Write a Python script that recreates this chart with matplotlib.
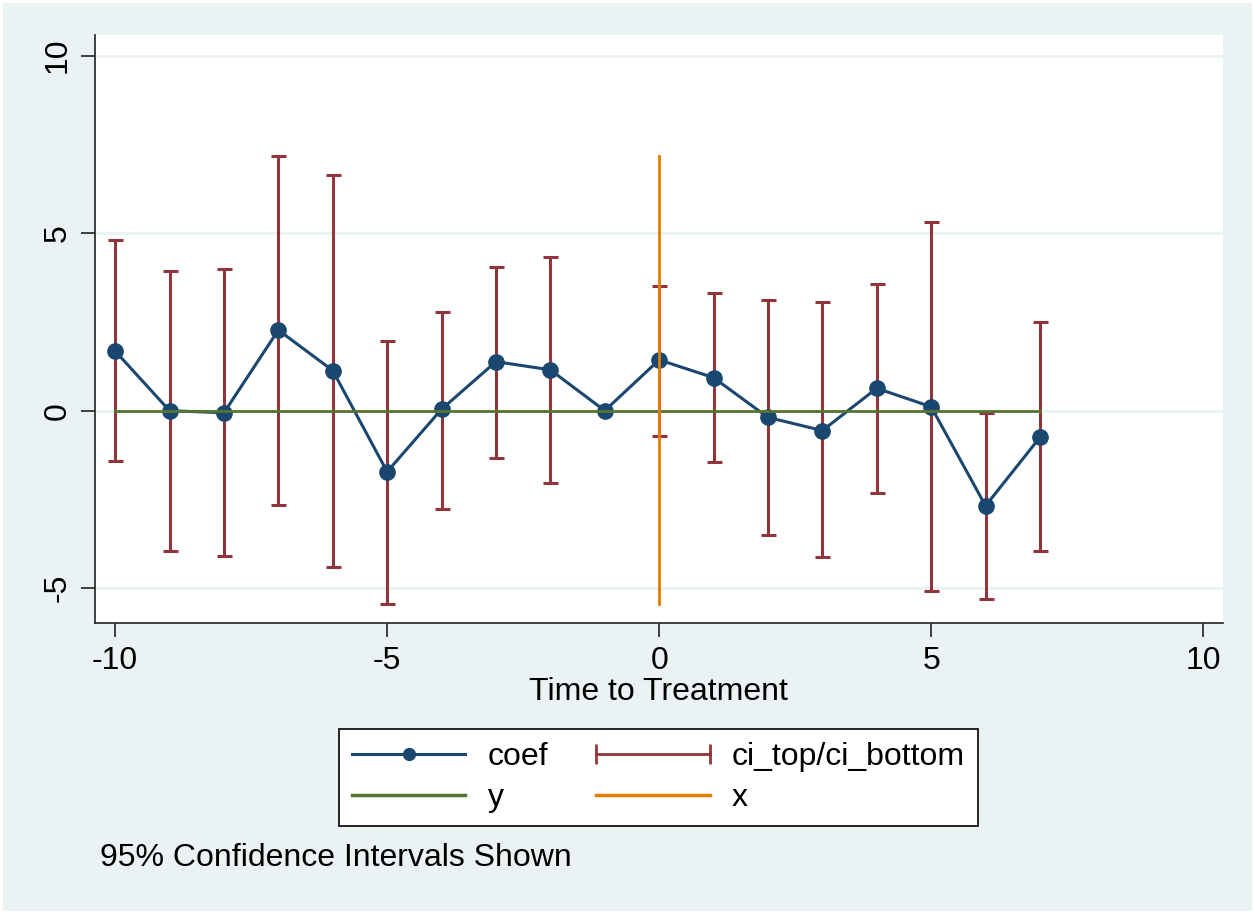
import numpy as np
import matplotlib
matplotlib.use("Agg")
import matplotlib.pyplot as plt
from matplotlib.lines import Line2D
from matplotlib.legend_handler import HandlerLine2D

# Event-study estimates by time to treatment
time = np.arange(-10, 8)
coef = [1.68, 0.00, -0.06, 2.27, 1.13, -1.72, 0.04, 1.38, 1.15,
        0.00, 1.43, 0.93, -0.19, -0.56, 0.63, 0.11, -2.68, -0.75]
ci_top = [4.81, 3.94, 3.99, 7.17, 6.64, 1.96, 2.79, 4.06, 4.32,
          np.nan, 3.51, 3.31, 3.13, 3.05, 3.57, 5.30, -0.07, 2.49]
ci_bottom = [-1.42, -3.95, -4.10, -2.65, -4.39, -5.44, -2.76, -1.34, -2.05,
             np.nan, -0.70, -1.45, -3.51, -4.13, -2.31, -5.07, -5.30, -3.94]

# Stata s2color palette
navy = '#1a476f'
maroon = '#90353b'
green = '#55752f'
orange = '#e37e00'
bg = '#eaf2f3'

plt.rcParams['font.family'] = ['Liberation Sans', 'DejaVu Sans']
plt.rcParams['font.size'] = 23
plt.rcParams['axes.unicode_minus'] = False

fig = plt.figure(figsize=(12.55, 9.14), dpi=100)
fig.patch.set_facecolor(bg)
fig.patch.set_edgecolor('white')
fig.patch.set_linewidth(4)

ax = fig.add_axes([0.0757, 0.318, 0.8986, 0.6437])
ax.set_facecolor('white')

top = np.array(ci_top)
bot = np.array(ci_bottom)
mid = (top + bot) / 2
half = (top - bot) / 2

# confidence intervals
ax.errorbar(time, mid, yerr=[half, half], fmt='none', ecolor=maroon,
            elinewidth=2.2, capsize=5.4, capthick=2.2, zorder=2)
# point estimates
ax.plot(time, coef, color=navy, lw=2.2, marker='o', ms=11, zorder=3)
# reference lines
ax.plot([time.min(), time.max()], [0, 0], color=green, lw=2, zorder=4)
ax.plot([0, 0], [np.nanmin(bot), np.nanmax(top)], color=orange, lw=2, zorder=5)

ax.set_xlim(-10.37, 10.36)
ax.set_ylim(-5.99, 10.58)
ax.set_xticks([-10, -5, 0, 5, 10])
ax.set_yticks([-5, 0, 5, 10])
ax.grid(axis='y', color=bg, lw=2)
ax.set_axisbelow(True)

for s in ['top', 'right']:
    ax.spines[s].set_visible(False)
for s in ['left', 'bottom']:
    ax.spines[s].set_linewidth(1.2)
    ax.spines[s].set_color('#222222')

ax.tick_params(direction='out', length=10, width=1.2, color='#222222', pad=6)
ax.tick_params(axis='y', labelrotation=90)
for lab in ax.get_yticklabels():
    lab.set_va('center')

ax.set_xlabel('Time to Treatment', labelpad=1)

# legend handles
h_coef = Line2D([], [], color=navy, lw=2.2, marker='o', ms=8.5)
h_ci = Line2D([], [], color=maroon, lw=2, marker='|', ms=14, mew=2)
h_y = Line2D([], [], color=green, lw=2.5)
h_x = Line2D([], [], color=orange, lw=2.5)

leg = fig.legend([h_coef, h_y, h_ci, h_x], ['coef', 'y', 'ci_top/ci_bottom', 'x'],
                 ncol=2, loc='center', bbox_to_anchor=(658.5 / 1255, (914 - 777.5) / 914),
                 fancybox=False, edgecolor='black', framealpha=1,
                 handlelength=3.55, handletextpad=0.7, columnspacing=1.5,
                 labelspacing=0.35, borderpad=0.4, numpoints=1,
                 handler_map={h_ci: HandlerLine2D(numpoints=2, marker_pad=0)})
leg.get_frame().set_linewidth(1.2)

fig.text(100 / 1255, (914 - 858) / 914, '95% Confidence Intervals Shown', va='center')

fig.savefig('out.png', dpi=100, facecolor=fig.get_facecolor(), edgecolor=fig.get_edgecolor())
